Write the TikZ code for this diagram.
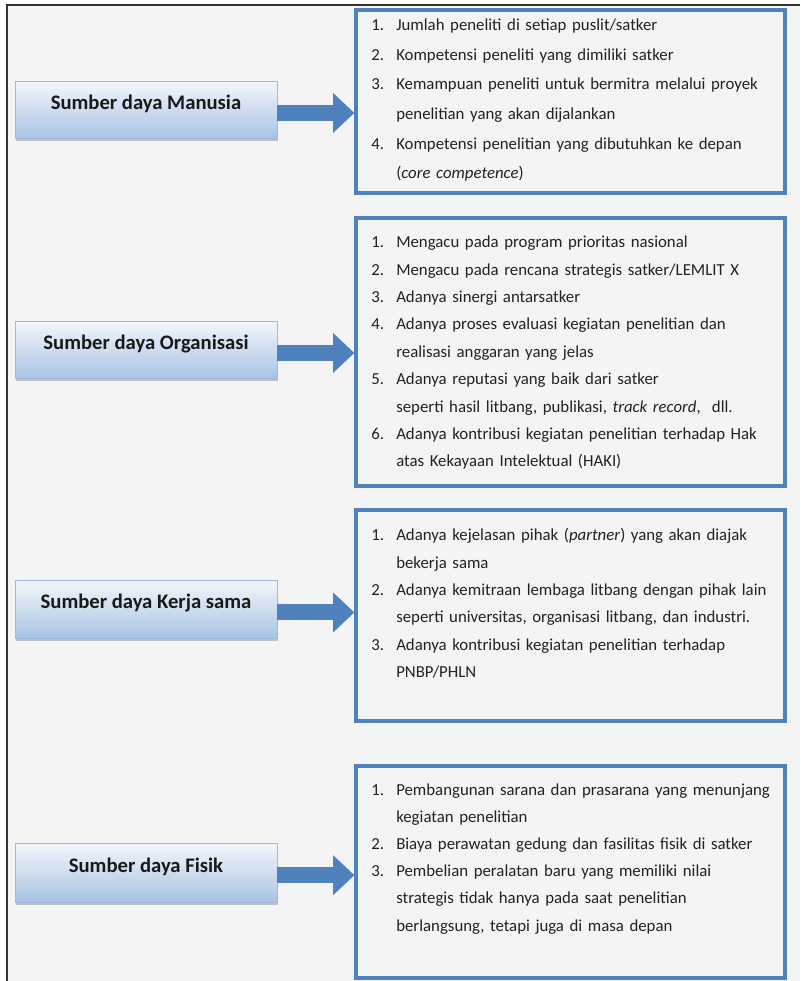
\documentclass[tikz,border=0pt]{standalone}
\usepackage{fontspec}
\setmainfont{Carlito}
\usetikzlibrary{fit,shadows,arrows.meta}

\definecolor{frameblue}{HTML}{4F81BD}
\definecolor{pagegray}{HTML}{F4F4F4}
\definecolor{labtop}{HTML}{F3F7FC}
\definecolor{labbottom}{HTML}{A9C3E3}
\definecolor{labedge}{HTML}{9DB9DD}
\definecolor{inktext}{HTML}{222222}

% list helpers: numbered line and continuation line
\newcommand\bodyfont[1]{\fontsize{12.6}{#1}\selectfont\setlength\parindent{0pt}}
\newcommand\li[1]{\strut\makebox[18.75pt][l]{#1.}}
\newcommand\lc{\strut\hspace*{18.75pt}}

\begin{document}
\begin{tikzpicture}[x=0.75pt,y=-0.75pt,
  frameline/.style={draw=black!80, line width=1.1pt},
  cbox/.style={draw=frameblue, line width=2.4pt, inner sep=0pt},
  lbox/.style={draw=labedge, line width=0.6pt, inner sep=0pt,
    top color=labtop, bottom color=labbottom,
    drop shadow={shadow xshift=1pt, shadow yshift=-2.5pt, opacity=0.35, fill=black!60}},
  ltext/.style={font=\fontsize{15.5}{18}\selectfont\bfseries, text=black!90, inner sep=0pt},
  btext/.style={anchor=north west, inner sep=0pt, text width=330pt, align=left, text=inktext},
  bigarrow/.style={draw=frameblue, line width=12pt, -{Triangle[width=29pt,length=16pt]}}
]
\useasboundingbox (0,0) rectangle (800,981);
\fill[white] (0,0) rectangle (800,981);
\fill[pagegray] (7,5) rectangle (800,981);
\draw[frameline] (7,981) -- (7,5) -- (800,5);

% content boxes
\node[cbox, fit={(356,10) (785,193)}] (c1) {};
\node[cbox, fit={(356,218) (785,486)}] (c2) {};
\node[cbox, fit={(356,510) (785,721)}] (c3) {};
\node[cbox, fit={(356,766) (785,978)}] (c4) {};

% label boxes
\node[lbox, fit={(15,81) (277,138)}] (l1) {};
\node[lbox, fit={(15,321) (277,378)}] (l2) {};
\node[lbox, fit={(15,580) (277,638)}] (l3) {};
\node[lbox, fit={(15,843) (277,902)}] (l4) {};

\node[ltext] (t1) at ([yshift=4.5pt]l1.center) {Sumber daya Manusia};
\node[ltext] (t2) at ([yshift=4.5pt]l2.center) {Sumber daya Organisasi};
\node[ltext] (t3) at ([yshift=4.5pt]l3.center) {Sumber daya Kerja sama};
\node[ltext] (t4) at ([yshift=4.5pt]l4.center) {Sumber daya Fisik};

% connectors
\coordinate (a1) at ([yshift=-2.6pt]l1.east);
\coordinate (a2) at ([yshift=-2.6pt]l2.east);
\coordinate (a3) at ([yshift=-2.6pt]l3.east);
\coordinate (a4) at ([yshift=-2.0pt]l4.east);
\draw[bigarrow] (a1) -- (a1 -| c1.west);
\draw[bigarrow] (a2) -- (a2 -| c2.west);
\draw[bigarrow] (a3) -- (a3 -| c3.west);
\draw[bigarrow] (a4) -- (a4 -| c4.west);

% list texts
\node[btext, font=\bodyfont{22.2}] (x1) at (371,9.8) {%
\li{1}Jumlah peneliti di setiap puslit/satker\\
\li{2}Kompetensi peneliti yang dimiliki satker\\
\li{3}Kemampuan peneliti untuk bermitra melalui proyek\\
\lc penelitian yang akan dijalankan\\
\li{4}Kompetensi penelitian yang dibutuhkan ke depan\\
\lc (\textit{core competence})};

\node[btext, font=\bodyfont{20.55}] (x2) at (371,228.3) {%
\li{1}Mengacu pada program prioritas nasional\\
\li{2}Mengacu pada rencana strategis satker/LEMLIT X\\
\li{3}Adanya sinergi antarsatker\\
\li{4}Adanya proses evaluasi kegiatan penelitian dan\\
\lc realisasi anggaran yang jelas\\
\li{5}Adanya reputasi yang baik dari satker\\
\lc seperti hasil litbang, publikasi, \textit{track record},\ \ dll.\\
\li{6}Adanya kontribusi kegiatan penelitian terhadap Hak\\
\lc atas Kekayaan Intelektual (HAKI)};

\node[btext, font=\bodyfont{20.55}] (x3) at (371,521.3) {%
\li{1}Adanya kejelasan pihak (\textit{partner}) yang akan diajak\\
\lc bekerja sama\\
\li{2}Adanya kemitraan lembaga litbang dengan pihak lain\\
\lc seperti universitas, organisasi litbang, dan industri.\\
\li{3}Adanya kontribusi kegiatan penelitian terhadap\\
\lc PNBP/PHLN};

\node[btext, font=\bodyfont{20.3}] (x4) at (371,776.5) {%
\li{1}Pembangunan sarana dan prasarana yang menunjang\\
\lc kegiatan penelitian\\
\li{2}Biaya perawatan gedung dan fasilitas fisik di satker\\
\li{3}Pembelian peralatan baru yang memiliki nilai\\
\lc strategis tidak hanya pada saat penelitian\\
\lc berlangsung, tetapi juga di masa depan};
\end{tikzpicture}
\end{document}
